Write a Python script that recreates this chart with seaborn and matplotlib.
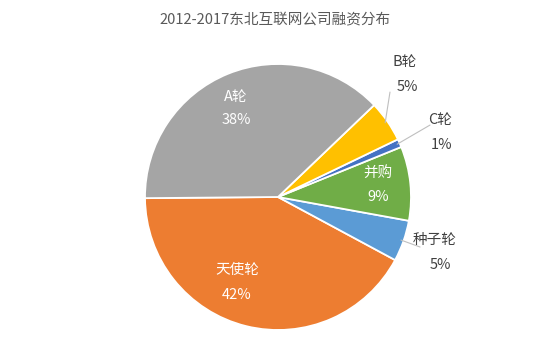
import matplotlib
matplotlib.use("Agg")
import matplotlib.pyplot as plt
import seaborn as sns
import numpy as np

# data
categories = ["天使轮", "种子轮", "并购", "C轮", "B轮", "A轮"]
values = [42, 5, 9, 1, 5, 38]
pct_labels = ["42%", "5%", "9%", "1%", "5%", "38%"]
colors = ["#ED7D31", "#5B9BD5", "#70AD47", "#4472C4", "#FFC000", "#A5A5A5"]
title = "2012-2017东北互联网公司融资分布"

sns.set_theme(style="white")
plt.rcParams['font.family'] = ['Noto Sans CJK SC', 'DejaVu Sans']

W, H = 550, 358
fig = plt.figure(figsize=(W / 100, H / 100), dpi=100)
fig.patch.set_facecolor("white")
cx, cy, R = 278, 197, 133
ax = fig.add_axes([(cx - R) / W, (H - cy - R) / H, 2 * R / W, 2 * R / H])
ax.axis("off")

wedges, _ = ax.pie(values, colors=colors, startangle=180.5, counterclock=True,
                   radius=1.0, wedgeprops=dict(edgecolor="white", linewidth=1.3))
ax.set_xlim(-1, 1)
ax.set_ylim(-1, 1)

# label layout: (name pos, pct pos, color, leader end or None)
layout = {
    "A轮": ((-0.316, 0.752), (-0.316, 0.579), "white", None),
    "天使轮": ((-0.308, -0.549), (-0.308, -0.737), "white", None),
    "并购": ((0.752, 0.180), (0.752, 0.0), "white", None),
    "B轮": ((0.955, 1.015), (0.97, 0.827), "#404040", (0.842, 0.789)),
    "C轮": ((1.22, 0.579), (1.233, 0.391), "#404040", (1.143, 0.541)),
    "种子轮": ((1.18, -0.323), (1.218, -0.511), "#404040", (1.068, -0.376)),
}

for w, cat, pl in zip(wedges, categories, pct_labels):
    npos, ppos, col, lead = layout[cat]
    ax.text(*npos, cat, ha="center", va="center", fontsize=10.5, color=col, clip_on=False)
    ax.text(*ppos, pl, ha="center", va="center", fontsize=10.5, color=col, clip_on=False)
    if lead is not None:
        mid = np.deg2rad((w.theta1 + w.theta2) / 2)
        ax.plot([np.cos(mid) * 0.98, lead[0]], [np.sin(mid) * 0.98, lead[1]],
                color="#BFBFBF", lw=0.8, clip_on=False)

fig.text(275 / W, 1 - 20 / H, title, ha="center", va="center", fontsize=10.5, color="#595959")

fig.savefig("out.png", dpi=100, facecolor="white")
